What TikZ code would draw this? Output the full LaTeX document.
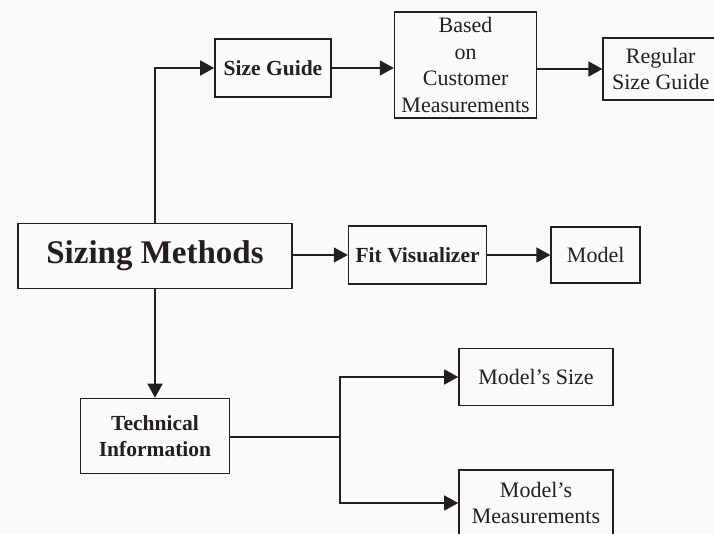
\documentclass[tikz,border=0pt]{standalone}
\usepackage{fontspec}
\setmainfont{Liberation Serif}
\usetikzlibrary{positioning, arrows.meta}
\definecolor{ink}{RGB}{35,31,32}
\definecolor{paper}{RGB}{250,250,248}
\tikzset{
  box/.style = {draw=ink, line width=1.6pt, inner sep=0, align=center, text=ink,
                font=\fontsize{22}{26.4}\selectfont},
  boldbox/.style = {box, font=\fontsize{21.5}{26}\selectfont\bfseries},
  link/.style = {draw=ink, line width=1.6pt, -{Triangle[length=14pt, width=15pt]}},
}

\begin{document}
\begin{tikzpicture}[x=1pt, y=-1pt, node distance=0]
        \fill [paper] (0,0) rectangle (714,534);
        \useasboundingbox (0,0) rectangle (714,534);

        % left column
        \node (methods) [box, font=\fontsize{33}{39}\selectfont\bfseries,
          minimum width=274pt, minimum height=65pt] at (155,256) {Sizing Methods};
        \node (techinfo) [boldbox, minimum width=149pt, minimum height=75pt] at (155,436) {Technical\\Information};

        % top row
        \node (sizeguide) [boldbox, minimum width=116pt, minimum height=58pt] at (273,68) {Size Guide};
        \node (based) [box, minimum width=142pt, minimum height=106pt, right=62pt of sizeguide, yshift=3pt]
          {Based\\on\\Customer\\Measurements};
        \node (regular) [box, minimum width=115pt, minimum height=62pt, right=65pt of based, yshift=-4pt]
          {Regular\\Size Guide};

        % middle row
        \node (fitvis) [boldbox, minimum width=138pt, minimum height=58pt, right=55pt of methods, yshift=1pt] {Fit Visualizer};
        \node (model) [box, minimum width=89pt, minimum height=56pt, right=63pt of fitvis] {Model};

        % bottom branches
        \node (msize) [box, minimum width=154pt, minimum height=57pt] at (536,377) {Model's Size};
        \node (mmeas) [box, minimum width=154pt, minimum height=66pt] at (536,503) {Model's\\Measurements};
        \coordinate (split) at (340,437);

        \draw [link] (methods.north) |- (sizeguide.west);
        \draw [link] (sizeguide.east) -- (sizeguide.east -| based.west);
        \draw [link] (based.east |- regular.west) -- (regular.west);
        \draw [link] (methods.east |- fitvis.west) -- (fitvis.west);
        \draw [link] (fitvis.east) -- (fitvis.east -| model.west);
        \draw [link] (methods.south) -- (techinfo.north);
        \draw [ink, line width=1.6pt] (techinfo.east |- split) -- (split);
        \draw [link] (split) |- (msize.west);
        \draw [link] (split) |- (mmeas.west);
      \end{tikzpicture}
\end{document}
